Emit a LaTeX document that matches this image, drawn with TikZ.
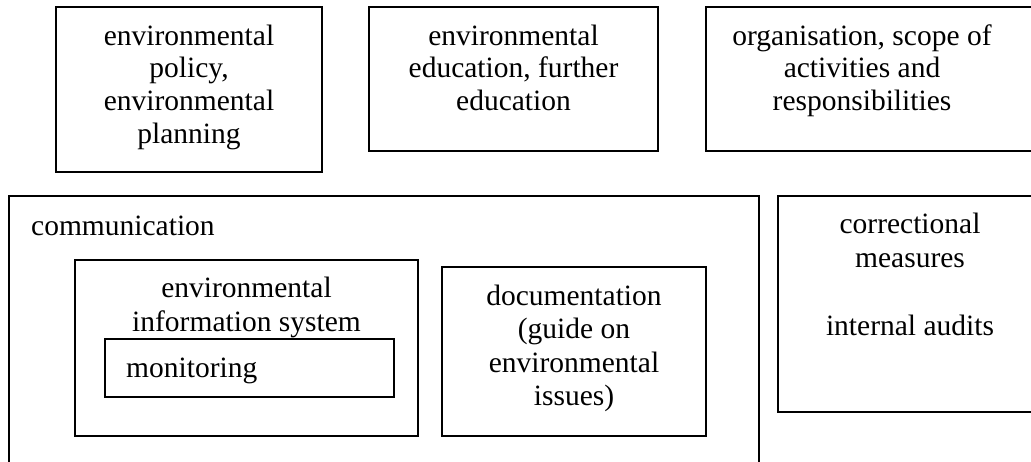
\documentclass[tikz,border=0pt]{standalone}
\usepackage{fontspec}
\setmainfont{Liberation Serif}
\begin{document}
\begin{tikzpicture}[x=1pt,y=-1pt,
  box/.style={draw=black,line width=1.6pt},
  txt/.style={anchor=base,inner sep=0pt,font=\fontsize{29.5}{33}\selectfont},
  txtl/.style={txt,anchor=base west}]
\useasboundingbox (0,0) rectangle (1031,461);
\clip (0,0) rectangle (1031,461);
% boxes
\draw[box] (56,7) rectangle (322,172);
\draw[box] (369,7) rectangle (658,151);
\draw[box] (706,7) rectangle (1050,151);
\draw[box] (9,196) rectangle (759,490);
\draw[box] (778,196) rectangle (1050,412);
\draw[box] (75,260) rectangle (418,436);
\draw[box] (105,339) rectangle (394,397);
\draw[box] (442,267) rectangle (706,436);
% box 1
\node[txt] (p1) at (189,45) {environmental};
\node[txt] (p2) at (189,77.7) {policy,};
\node[txt] (p3) at (189,110.4) {environmental};
\node[txt] (p4) at (189,143) {planning};
% box 2
\node[txt] (e1) at (513.5,45) {environmental};
\node[txt] (e2) at (513.5,77.5) {education, further};
\node[txt] (e3) at (513.5,110) {education};
% box 3
\node[txt] (o1) at (862,45) {organisation, scope of};
\node[txt] (o2) at (862,77.5) {activities and};
\node[txt] (o3) at (862,110) {responsibilities};
% communication
\node[txtl] (c1) at (31,235) {communication};
% environmental information system
\node[txt] (i1) at (246.5,297) {environmental};
\node[txt] (i2) at (246.5,331) {information system};
\node[txtl] (m1) at (126,377) {monitoring};
% documentation
\node[txt] (d1) at (574,305) {documentation};
\node[txt] (d2) at (574,338) {(guide on};
\node[txt] (d3) at (574,372) {environmental};
\node[txt] (d4) at (574,405) {issues)};
% correctional
\node[txt] (r1) at (910,233) {correctional};
\node[txt] (r2) at (910,267) {measures};
\node[txt] (r3) at (910,335) {internal audits};
\end{tikzpicture}
\end{document}
